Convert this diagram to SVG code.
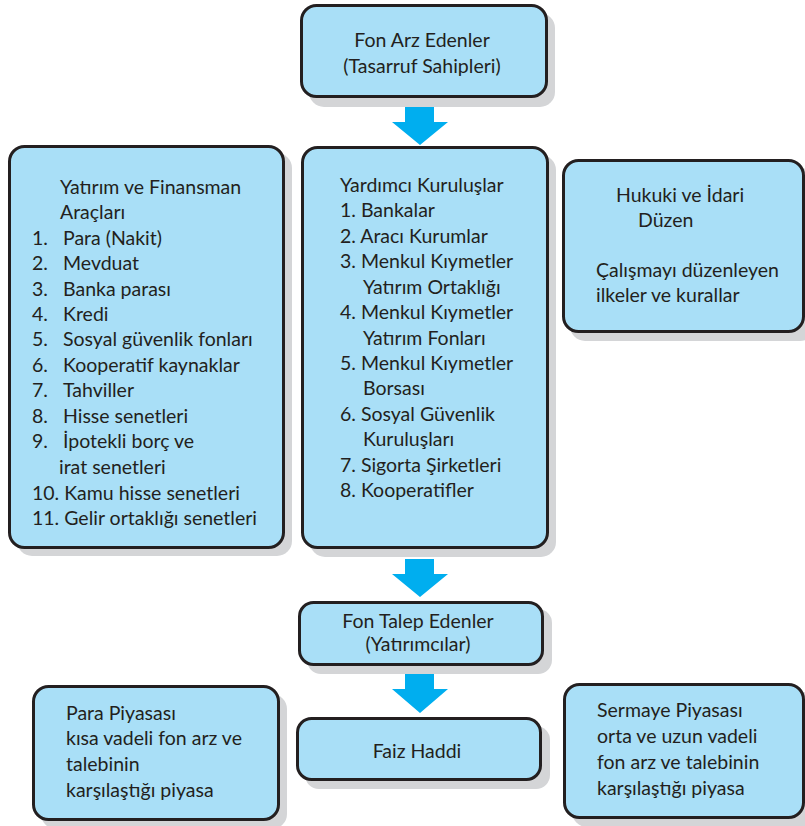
<svg xmlns="http://www.w3.org/2000/svg" width="805" height="826" viewBox="0 0 805 826">
<defs>
<style>
.sh{fill:#d4d5d7;}
.bx{fill:#a9dff7;stroke:#231f20;stroke-width:3;}
.t{font-family:Lato,"Open Sans","Liberation Sans",sans-serif;font-size:19.5px;fill:#231f20;}
.c{text-anchor:middle;}
.ar{fill:#00aeef;}
</style>
</defs>
<rect width="805" height="826" fill="#ffffff"/>

<g id="connectors">
<polygon class="ar" points="405,107 434,107 434,122 448,122 420,145 392,122 405,122"/>
<polygon class="ar" points="405,559 434,559 434,574 448,574 420,597 392,574 405,574"/>
<polygon class="ar" points="405,674 434,674 434,689 448,689 420,713 392,689 405,689"/>
</g>

<g id="fon-arz">
<rect class="sh" x="309" y="13" width="246" height="94" rx="15"/>
<rect class="bx" x="301.5" y="5.5" width="245" height="91" rx="15"/>
<text class="t c" x="422" y="47">Fon Arz Edenler</text>
<text class="t c" x="422" y="73">(Tasarruf Sahipleri)</text>
</g>

<g id="yatirim-araclari">
<rect class="sh" x="17" y="153" width="275" height="403" rx="15"/>
<rect class="bx" x="9.5" y="146.5" width="274" height="401" rx="15"/>
<text class="t" x="60" y="194">Yatırım ve Finansman</text>
<text class="t" x="60" y="219">Araçları</text>
<text class="t" x="32" y="245">1.</text><text class="t" x="63" y="245">Para (Nakit)</text>
<text class="t" x="32" y="270">2.</text><text class="t" x="63" y="270">Mevduat</text>
<text class="t" x="32" y="296">3.</text><text class="t" x="63" y="296">Banka parası</text>
<text class="t" x="32" y="321">4.</text><text class="t" x="63" y="321">Kredi</text>
<text class="t" x="32" y="346">5.</text><text class="t" x="63" y="346">Sosyal güvenlik fonları</text>
<text class="t" x="32" y="372">6.</text><text class="t" x="63" y="372">Kooperatif kaynaklar</text>
<text class="t" x="32" y="397">7.</text><text class="t" x="63" y="397">Tahviller</text>
<text class="t" x="32" y="423">8.</text><text class="t" x="63" y="423">Hisse senetleri</text>
<text class="t" x="32" y="448">9.</text><text class="t" x="63" y="448">İpotekli borç ve</text>
<text class="t" x="59" y="474">irat senetleri</text>
<text class="t" x="32" y="500">10. Kamu hisse senetleri</text>
<text class="t" x="32" y="525">11. Gelir ortaklığı senetleri</text>
</g>

<g id="yardimci-kuruluslar">
<rect class="sh" x="310" y="155" width="246" height="402" rx="15"/>
<rect class="bx" x="302.5" y="147.5" width="245" height="400" rx="15"/>
<text class="t" x="340" y="192">Yardımcı Kuruluşlar</text>
<text class="t" x="340" y="217">1. Bankalar</text>
<text class="t" x="340" y="243">2. Aracı Kurumlar</text>
<text class="t" x="340" y="268">3. Menkul Kıymetler</text>
<text class="t" x="363" y="294">Yatırım Ortaklığı</text>
<text class="t" x="340" y="319">4. Menkul Kıymetler</text>
<text class="t" x="363" y="345">Yatırım Fonları</text>
<text class="t" x="340" y="370">5. Menkul Kıymetler</text>
<text class="t" x="363" y="395">Borsası</text>
<text class="t" x="340" y="421">6. Sosyal Güvenlik</text>
<text class="t" x="363" y="446">Kuruluşları</text>
<text class="t" x="340" y="472">7. Sigorta Şirketleri</text>
<text class="t" x="340" y="497">8. Kooperatifler</text>
</g>

<g id="hukuki-idari">
<rect class="sh" x="570" y="168" width="245" height="173" rx="15"/>
<rect class="bx" x="563.5" y="160.5" width="240" height="171" rx="15"/>
<text class="t" x="616" y="202">Hukuki ve İdari</text>
<text class="t" x="638" y="227">Düzen</text>
<text class="t" x="596" y="277">Çalışmayı düzenleyen</text>
<text class="t" x="596" y="302">ilkeler ve kurallar</text>
</g>

<g id="fon-talep">
<rect class="sh" x="307" y="609" width="245" height="65" rx="14"/>
<rect class="bx" x="299.5" y="602.5" width="243" height="62" rx="14"/>
<text class="t c" x="418" y="628">Fon Talep Edenler</text>
<text class="t c" x="418" y="651">(Yatırımcılar)</text>
</g>

<g id="faiz-haddi">
<rect class="sh" x="305" y="726" width="245" height="63" rx="14"/>
<rect class="bx" x="297.5" y="718.5" width="243" height="61" rx="14"/>
<text class="t c" x="417" y="758">Faiz Haddi</text>
</g>

<g id="para-piyasasi">
<rect class="sh" x="41" y="694" width="246" height="135" rx="15"/>
<rect class="bx" x="33.5" y="686.5" width="245" height="133" rx="15"/>
<text class="t" x="66" y="720">Para Piyasası</text>
<text class="t" x="66" y="745">kısa vadeli fon arz ve</text>
<text class="t" x="66" y="771">talebinin</text>
<text class="t" x="66" y="797">karşılaştığı piyasa</text>
</g>

<g id="sermaye-piyasasi">
<rect class="sh" x="572" y="692" width="245" height="135" rx="15"/>
<rect class="bx" x="564.5" y="684.5" width="239" height="133" rx="15"/>
<text class="t" x="597" y="717">Sermaye Piyasası</text>
<text class="t" x="597" y="743">orta ve uzun vadeli</text>
<text class="t" x="597" y="769">fon arz ve talebinin</text>
<text class="t" x="597" y="795">karşılaştığı piyasa</text>
</g>
</svg>
